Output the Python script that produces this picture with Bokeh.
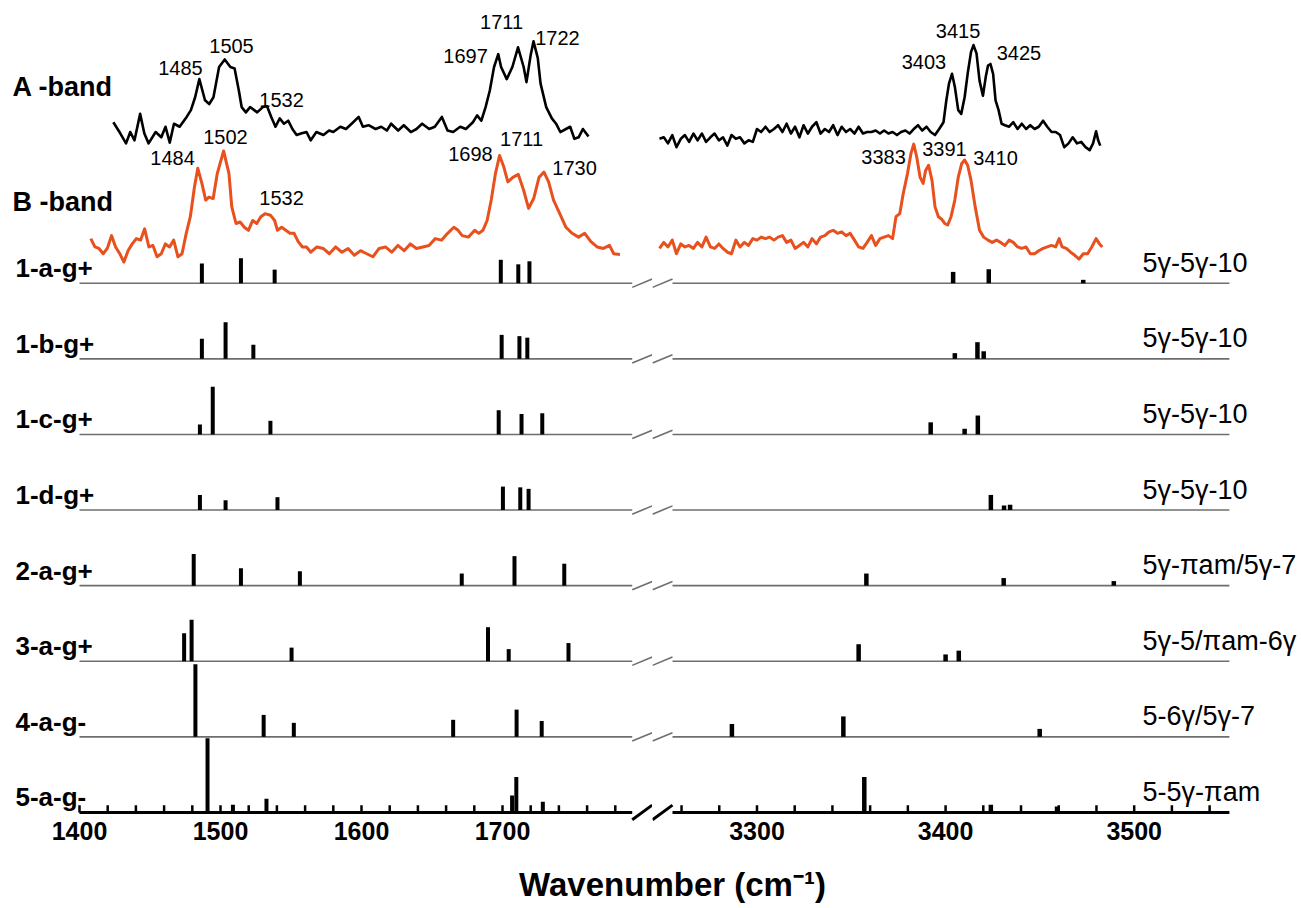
from bokeh.plotting import figure
from bokeh.models import Range1d, FixedTicker, Label, ColumnDataSource
from bokeh.transform import dodge
from bokeh.layouts import row, column
from bokeh.embed import file_html
from bokeh.resources import INLINE

# ---------------------------------------------------------------- data
row_names = ["1-a-g+", "1-b-g+", "1-c-g+", "1-d-g+", "2-a-g+", "3-a-g+", "4-a-g-", "5-a-g-"]
row_motifs = ["5\u03b3-5\u03b3-10", "5\u03b3-5\u03b3-10", "5\u03b3-5\u03b3-10", "5\u03b3-5\u03b3-10",
              "5\u03b3-\u03c0am/5\u03b3-7", "5\u03b3-5/\u03c0am-6\u03b3", "5-6\u03b3/5\u03b3-7", "5-5\u03b3-\u03c0am"]

# computed stick spectra: wavenumber (cm-1) and relative intensity
s1a_x = [1486.8, 1514.5, 1538.4, 1698.8, 1711.2, 1719.1, 3404.0, 3422.9, 3473.0]
s1a_h = [0.26, 0.33, 0.18, 0.31, 0.25, 0.29, 0.15, 0.185, 0.045]
s1b_x = [1486.8, 1503.6, 1523.3, 1699.4, 1712.0, 1717.6, 3404.9, 3416.9, 3420.2]
s1b_h = [0.265, 0.485, 0.185, 0.317, 0.30, 0.28, 0.075, 0.22, 0.10]
s1c_x = [1485.4, 1494.5, 1535.4, 1697.3, 1713.5, 1728.2, 3392.1, 3410.1, 3417.1]
s1c_h = [0.13, 0.63, 0.18, 0.32, 0.27, 0.28, 0.16, 0.075, 0.25]
s1d_x = [1485.4, 1503.6, 1540.4, 1700.3, 1712.6, 1718.5, 3424.0, 3431.0, 3434.2]
s1d_h = [0.20, 0.13, 0.17, 0.31, 0.30, 0.28, 0.20, 0.06, 0.07]
s2a_x = [1481.0, 1514.5, 1556.3, 1671.1, 1708.5, 1743.8, 3358.0, 3430.8, 3489.2]
s2a_h = [0.42, 0.23, 0.19, 0.16, 0.39, 0.29, 0.16, 0.10, 0.06]
s3a_x = [1474.2, 1479.5, 1550.4, 1689.7, 1704.4, 1746.8, 3353.9, 3400.0, 3407.0]
s3a_h = [0.37, 0.55, 0.18, 0.45, 0.16, 0.24, 0.225, 0.09, 0.14]
s4a_x = [1482.2, 1530.6, 1552.0, 1665.0, 1710.0, 1727.8, 3286.7, 3345.8, 3449.9]
s4a_h = [0.96, 0.29, 0.185, 0.225, 0.36, 0.21, 0.17, 0.27, 0.105]
s5a_x = [1490.8, 1508.8, 1532.6, 1706.8, 1709.8, 1728.6, 3356.9, 3424.0, 3459.1]
s5a_h = [0.98, 0.10, 0.18, 0.225, 0.47, 0.14, 0.47, 0.10, 0.08]

# experimental A-band (relative intensity)
a_lo_x = [1424, 1429, 1433, 1436, 1439, 1443, 1446, 1449, 1454, 1458, 1461, 1464, 1467, 1471, 1476,
          1479, 1482, 1485, 1489, 1492, 1495, 1499, 1503, 1507, 1510, 1513, 1515, 1518, 1521, 1526,
          1530, 1533, 1536, 1539, 1542, 1545, 1548, 1551, 1554, 1557, 1561, 1564, 1568, 1573, 1577,
          1580, 1585, 1589, 1593, 1598, 1601, 1605, 1610, 1614, 1618, 1621, 1626, 1630, 1635, 1639,
          1643, 1648, 1652, 1657, 1661, 1665, 1670, 1674, 1679, 1682, 1685, 1688, 1691, 1694, 1697,
          1699, 1703, 1707, 1711, 1715, 1717, 1720, 1722, 1725, 1727, 1731, 1735, 1738, 1741, 1745,
          1748, 1751, 1754, 1757, 1761]
a_lo_y = [0.33, 0.18, 0.05, 0.20, 0.09, 0.44, 0.18, 0.05, 0.20, 0.13, 0.27, 0.06, 0.31, 0.27, 0.40,
          0.49, 0.66, 0.90, 0.62, 0.57, 0.66, 1.06, 1.16, 1.06, 1.04, 0.75, 0.53, 0.46, 0.53, 0.46,
          0.53, 0.54, 0.40, 0.27, 0.38, 0.31, 0.35, 0.24, 0.16, 0.18, 0.20, 0.09, 0.20, 0.16, 0.22,
          0.20, 0.27, 0.24, 0.31, 0.40, 0.27, 0.29, 0.24, 0.27, 0.22, 0.31, 0.22, 0.29, 0.20, 0.24,
          0.31, 0.24, 0.27, 0.40, 0.22, 0.20, 0.27, 0.24, 0.33, 0.42, 0.35, 0.53, 0.75, 1.06, 1.23,
          1.06, 0.90, 1.06, 1.32, 1.06, 0.86, 1.22, 1.40, 1.18, 0.84, 0.53, 0.38, 0.31, 0.20, 0.24,
          0.27, 0.11, 0.13, 0.24, 0.14]
a_hi_x = [3248.3, 3250.6, 3252.8, 3255.1, 3257.3, 3259.6, 3261.8, 3264.0, 3266.3, 3268.5, 3270.8,
          3273.0, 3275.3, 3277.5, 3279.8, 3282.0, 3284.3, 3286.5, 3288.8, 3291.0, 3293.3, 3295.5,
          3297.8, 3300.0, 3302.2, 3304.5, 3306.7, 3309.0, 3311.2, 3313.5, 3315.7, 3318.0, 3320.2,
          3322.5, 3324.7, 3327.0, 3329.2, 3331.5, 3333.7, 3336.0, 3338.2, 3340.4, 3342.7, 3344.9,
          3347.2, 3349.4, 3351.7, 3353.9, 3356.2, 3358.4, 3360.7, 3362.9, 3365.2, 3367.4, 3369.7,
          3371.9, 3374.2, 3376.4, 3378.7, 3380.9, 3383.1, 3385.4, 3387.6, 3389.9, 3392.1, 3394.4,
          3396.6, 3398.9, 3400.4, 3401.8, 3403.4, 3404.9, 3406.7, 3408.3, 3410.1, 3411.7, 3413.5,
          3414.8, 3416.4, 3418.0, 3419.8, 3421.3, 3422.5, 3423.8, 3425.2, 3426.5, 3428.1, 3429.7,
          3431.5, 3433.7, 3435.9, 3438.2, 3440.4, 3442.7, 3444.9, 3447.2, 3449.4, 3451.7, 3453.9,
          3456.2, 3458.4, 3460.7, 3462.9, 3465.2, 3467.4, 3469.7, 3471.9, 3474.2, 3476.4, 3478.2,
          3479.8, 3480.9, 3482.0]
a_hi_y = [0.11, 0.13, 0.05, 0.16, 0.00, 0.11, 0.16, 0.07, 0.18, 0.09, 0.18,
          0.07, 0.13, 0.18, 0.09, 0.13, 0.02, 0.16, 0.11, 0.13, 0.05, 0.09,
          0.07, 0.24, 0.20, 0.27, 0.20, 0.24, 0.29, 0.20, 0.31, 0.18, 0.27,
          0.13, 0.29, 0.18, 0.27, 0.33, 0.18, 0.24, 0.20, 0.29, 0.16, 0.27,
          0.20, 0.24, 0.18, 0.27, 0.18, 0.20, 0.20, 0.22, 0.18, 0.22, 0.18,
          0.20, 0.16, 0.20, 0.22, 0.18, 0.24, 0.29, 0.22, 0.27, 0.20, 0.16,
          0.24, 0.33, 0.62, 0.84, 0.97, 0.80, 0.49, 0.44, 0.66, 0.97, 1.26,
          1.35, 1.24, 0.88, 0.68, 0.93, 1.08, 1.10, 0.97, 0.62, 0.49, 0.31,
          0.29, 0.27, 0.33, 0.24, 0.31, 0.24, 0.29, 0.24, 0.27, 0.35, 0.27,
          0.20, 0.20, 0.16, 0.00, 0.05, 0.13, 0.05, 0.07, 0.00, -0.04, 0.05,
          0.21, 0.09, 0.02]

# experimental B-band (relative intensity)
b_lo_x = [1408.0, 1410.9, 1413.8, 1416.8, 1419.7, 1422.7, 1425.6, 1428.6, 1431.5, 1434.4, 1437.4,
          1440.3, 1443.3, 1446.2, 1449.2, 1452.1, 1455.0, 1458.0, 1460.9, 1463.9, 1466.8, 1469.8,
          1472.7, 1475.7, 1478.6, 1481.5, 1483.9, 1486.8, 1489.5, 1491.8, 1494.8, 1497.7, 1502.2,
          1506.0, 1508.0, 1511.0, 1513.9, 1516.9, 1519.8, 1522.8, 1525.7, 1528.6, 1531.6, 1535.4,
          1538.4, 1540.4, 1543.4, 1546.3, 1549.3, 1552.2, 1555.1, 1558.1, 1561.0, 1564.0, 1568.4,
          1572.8, 1577.2, 1581.6, 1586.1, 1590.5, 1594.9, 1599.3, 1603.7, 1608.1, 1612.5, 1617.0,
          1621.4, 1625.8, 1630.2, 1634.6, 1639.0, 1643.5, 1647.9, 1652.3, 1656.7, 1661.1, 1665.5,
          1668.5, 1671.4, 1675.8, 1680.3, 1683.2, 1686.1, 1689.1, 1692.0, 1695.0, 1697.9, 1700.9,
          1703.8, 1707.3, 1711.2, 1715.0, 1718.5, 1722.1, 1725.9, 1729.4, 1732.7, 1736.2, 1740.6,
          1745.0, 1749.4, 1753.9, 1758.3, 1762.7, 1767.1, 1771.5, 1775.9, 1778.9, 1783.3]
b_lo_y = [0.34, 0.23, 0.21, 0.14, 0.21, 0.38, 0.23, 0.14, 0.03, 0.18, 0.27,
          0.34, 0.32, 0.47, 0.23, 0.25, 0.10, 0.14, 0.27, 0.23, 0.32, 0.10,
          0.14, 0.41, 0.63, 1.02, 1.27, 1.07, 0.85, 0.89, 0.87, 1.20, 1.50,
          1.20, 0.76, 0.54, 0.56, 0.49, 0.45, 0.58, 0.54, 0.63, 0.67, 0.65,
          0.58, 0.45, 0.49, 0.45, 0.41, 0.41, 0.30, 0.23, 0.23, 0.16, 0.23,
          0.21, 0.14, 0.23, 0.16, 0.21, 0.12, 0.18, 0.14, 0.10, 0.21, 0.23,
          0.16, 0.25, 0.18, 0.27, 0.21, 0.23, 0.25, 0.34, 0.32, 0.41, 0.49,
          0.45, 0.38, 0.36, 0.45, 0.41, 0.45, 0.58, 0.85, 1.20, 1.44, 1.29,
          1.09, 1.15, 1.19, 0.98, 0.74, 0.87, 1.15, 1.22, 1.09, 0.85, 0.67,
          0.49, 0.41, 0.36, 0.41, 0.30, 0.23, 0.21, 0.25, 0.14, 0.13]
b_hi_x = [3248.3, 3250.6, 3252.8, 3255.1, 3257.3, 3259.6, 3261.8, 3264.0, 3266.3, 3268.5, 3270.8,
          3273.0, 3275.3, 3277.5, 3279.8, 3282.0, 3284.3, 3286.5, 3288.8, 3291.0, 3293.3, 3295.5,
          3297.8, 3300.0, 3302.2, 3304.5, 3306.7, 3309.0, 3311.2, 3313.5, 3315.7, 3318.0, 3320.2,
          3322.5, 3324.7, 3327.0, 3329.2, 3331.5, 3333.7, 3336.0, 3338.2, 3340.4, 3342.7, 3344.9,
          3347.2, 3349.4, 3351.7, 3353.9, 3356.2, 3358.4, 3360.7, 3362.9, 3365.2, 3367.4, 3369.7,
          3371.9, 3373.7, 3375.7, 3377.5, 3379.8, 3381.6, 3383.1, 3384.7, 3386.5, 3388.1, 3389.4,
          3391.0, 3392.8, 3394.4, 3396.2, 3397.8, 3399.6, 3401.1, 3402.9, 3404.9, 3406.7, 3408.5,
          3410.1, 3411.7, 3413.5, 3415.7, 3418.0, 3420.2, 3422.5, 3424.7, 3427.0, 3429.2, 3431.5,
          3433.7, 3435.9, 3438.2, 3440.4, 3442.7, 3444.9, 3447.2, 3449.4, 3451.7, 3453.9, 3456.2,
          3458.4, 3460.2, 3461.8, 3464.0, 3466.3, 3468.5, 3470.8, 3473.0, 3475.3, 3477.5, 3479.8,
          3481.6, 3483.1]
b_hi_y = [0.21, 0.29, 0.23, 0.32, 0.14, 0.27, 0.23, 0.25, 0.21, 0.29, 0.23,
          0.36, 0.23, 0.21, 0.27, 0.21, 0.16, 0.14, 0.32, 0.23, 0.29, 0.25,
          0.34, 0.32, 0.36, 0.34, 0.36, 0.32, 0.36, 0.38, 0.29, 0.32, 0.21,
          0.25, 0.29, 0.23, 0.34, 0.27, 0.36, 0.38, 0.43, 0.45, 0.41, 0.43,
          0.38, 0.41, 0.32, 0.23, 0.21, 0.29, 0.38, 0.25, 0.34, 0.36, 0.38,
          0.34, 0.63, 0.67, 0.93, 1.20, 1.46, 1.59, 1.42, 1.15, 1.07, 1.24,
          1.31, 1.11, 0.76, 0.63, 0.60, 0.54, 0.52, 0.63, 0.85, 1.15, 1.33,
          1.38, 1.31, 1.11, 0.76, 0.45, 0.36, 0.32, 0.29, 0.32, 0.29, 0.25,
          0.32, 0.29, 0.23, 0.21, 0.23, 0.14, 0.14, 0.18, 0.21, 0.23, 0.25,
          0.23, 0.34, 0.23, 0.21, 0.16, 0.12, 0.07, 0.14, 0.14, 0.23, 0.34,
          0.27, 0.23]

# peak annotations
a_lo_peaks = ["1485", "1505", "1532", "1697", "1711", "1722"]
b_lo_peaks = ["1484", "1502", "1532", "1698", "1711", "1730"]
a_hi_peaks = ["3403", "3415", "3425"]
b_hi_peaks = ["3383", "3391", "3410"]

major_lo = [1400, 1500, 1600, 1700]
minor_lo = [1420, 1440, 1460, 1480, 1520, 1540, 1560, 1580, 1620, 1640, 1660, 1680, 1720, 1740, 1760, 1780]
major_hi = [3300, 3400, 3500]
minor_hi = [3260, 3280, 3320, 3340, 3360, 3380, 3420, 3440, 3460, 3480, 3520, 3540]

# ---------------------------------------------------------------- layout constants
FONT = "Liberation Sans"
PX_LO, PX_HI = 1.41, 1.886            # pixels per cm-1 in each segment
PX_ROW = 75.6                         # pixels per row unit
LO_START, LO_AXIS_END = 1400.0, 1792.0
LO_VIEW = (1343.97, 1343.97 + 652 / PX_LO)
HI_START, HI_END = 3255.2, 3550.5
HI_VIEW = (3244.6, 3244.6 + 648 / PX_HI)
A_OFF, B_OFF = 8.8, 7.25
N_ROWS = len(row_names)
FRAME_H = 821
yr = Range1d(-0.12, -0.12 + FRAME_H / PX_ROW)
RED = "#E8501E"
GREY = "#6e6e6e"
TXT_UP = 0.13      # lift for text baselines (row units)

a_lo_pos = [(1471.6, 9.72), (1507.8, 10.01), (1543.3, 9.29), (1673.8, 9.88), (1699.3, 10.33), (1739.0, 10.11)]
b_lo_pos = [(1466.0, 8.52), (1503.5, 8.80), (1543.3, 8.00), (1677.3, 8.58), (1713.5, 8.78), (1751.1, 8.39)]
a_hi_pos = [(3388.5, 9.79), (3406.6, 10.21), (3438.9, 9.92)]
b_hi_pos = [(3367.1, 8.54), (3399.4, 8.65), (3426.5, 8.52)]

sticks = [(s1a_x, s1a_h), (s1b_x, s1b_h), (s1c_x, s1c_h), (s1d_x, s1d_h),
          (s2a_x, s2a_h), (s3a_x, s3a_h), (s4a_x, s4a_h), (s5a_x, s5a_h)]


def make_fig(frame_w, xr):
    p = figure(frame_width=frame_w, frame_height=FRAME_H, x_range=Range1d(*xr), y_range=yr,
               output_backend="svg", toolbar_location=None, y_axis_location=None,
               min_border_left=0, min_border_right=0, min_border_top=0, min_border_bottom=40)
    p.xgrid.visible = False
    p.ygrid.visible = False
    p.outline_line_color = None
    p.background_fill_color = "white"
    p.border_fill_color = "white"
    ax = p.xaxis[0]
    ax.axis_line_color = None
    ax.major_tick_line_color = None
    ax.minor_tick_line_color = None
    ax.major_tick_in = 0
    ax.major_tick_out = 0
    ax.minor_tick_in = 0
    ax.minor_tick_out = 0
    ax.major_label_standoff = 0
    ax.major_label_text_font = FONT
    ax.major_label_text_font_size = "25px"
    ax.major_label_text_font_style = "bold"
    ax.major_label_text_color = "black"
    return p


p1 = make_fig(652, LO_VIEW)
p2 = make_fig(648, HI_VIEW)
p1.xaxis[0].ticker = FixedTicker(ticks=major_lo)
p2.xaxis[0].ticker = FixedTicker(ticks=major_hi)

for p, x0, x1, majors, minors in [(p1, LO_START, LO_AXIS_END, major_lo, minor_lo),
                                  (p2, HI_START, HI_END, major_hi, minor_hi)]:
    for r in range(1, N_ROWS):
        p.segment(x0=x0, y0=r, x1=x1, y1=r, line_width=1.6, line_color=GREY)
    p.segment(x0=x0, y0=0, x1=x1, y1=0, line_width=3, line_color="black")
    tsrc = ColumnDataSource(dict(t=majors + minors))
    p.segment(x0="t", y0=0, x1="t", y1=0.095, source=tsrc, line_width=2.5, line_color="black")

# axis-break marks: one slash at the end of the low segment, one before the high segment
for r in range(N_ROWS):
    base = N_ROWS - 1 - r
    if base == 0:
        dy, lw, col = 0.097, 3, "black"
    else:
        dy, lw, col = 0.055, 1.6, GREY
    p1.segment(x0=LO_AXIS_END, y0=base - dy, x1=LO_AXIS_END + 20 / PX_LO, y1=base + dy,
               line_width=lw, line_color=col)
    p2.segment(x0=HI_START - 20 / PX_HI, y0=base - dy, x1=HI_START, y1=base + dy,
               line_width=lw, line_color=col)

# stick spectra
for i, (xs, hs) in enumerate(sticks):
    base = N_ROWS - 1 - i
    lo = [(x, h) for x, h in zip(xs, hs) if x < 2500]
    hi = [(x, h) for x, h in zip(xs, hs) if x >= 2500]
    for p, pts, lw in [(p1, lo, 4), (p2, hi, 4.5)]:
        src = ColumnDataSource(dict(x=[a for a, _ in pts], h=[b for _, b in pts]))
        p.segment(x0="x", y0=base, x1="x", y1=dodge("h", base), source=src,
                  line_width=lw, line_color="black")

# experimental spectra
for p, xs, ys, off, col, lw in [(p1, a_lo_x, a_lo_y, A_OFF, "black", 2.6),
                                (p2, a_hi_x, a_hi_y, A_OFF, "black", 2.6),
                                (p1, b_lo_x, b_lo_y, B_OFF, RED, 3.0),
                                (p2, b_hi_x, b_hi_y, B_OFF, RED, 3.0)]:
    src = ColumnDataSource(dict(x=xs, y=ys))
    p.line("x", dodge("y", off), source=src, line_color=col, line_width=lw, line_join="round")

# peak labels
for p, texts, pos in [(p1, a_lo_peaks, a_lo_pos), (p1, b_lo_peaks, b_lo_pos),
                      (p2, a_hi_peaks, a_hi_pos), (p2, b_hi_peaks, b_hi_pos)]:
    for t, (x, y) in zip(texts, pos):
        p.add_layout(Label(x=x, y=y + TXT_UP, text=t, text_align="center", text_baseline="alphabetic",
                           text_font=FONT, text_font_size="20px", text_color="black"))

# band labels
for t, y in [("A -band", 9.60), ("B -band", 8.07)]:
    p1.add_layout(Label(x=12, x_units="screen", y=y, text=t, text_align="left",
                        text_baseline="alphabetic", text_font=FONT, text_font_size="27px",
                        text_font_style="bold", text_color="black"))

# row labels (left) and motif labels (right)
for i, (name, motif) in enumerate(zip(row_names, row_motifs)):
    base = N_ROWS - 1 - i
    p1.add_layout(Label(x=15, x_units="screen", y=base + 0.20, text=name, text_align="left",
                        text_baseline="alphabetic", text_font=FONT, text_font_size="26px",
                        text_font_style="bold", text_color="black"))
    p2.add_layout(Label(x=3504.4, y=base + 0.27, text=motif, text_align="left",
                        text_baseline="alphabetic", text_font=FONT, text_font_size="27px",
                        text_color="black"))

# axis title strip spanning both segments
p3 = figure(frame_width=1300, frame_height=47, x_range=Range1d(0, 1300), y_range=Range1d(0, 47),
            output_backend="svg", toolbar_location=None, x_axis_location=None, y_axis_location=None,
            min_border=0)
p3.xgrid.visible = False
p3.ygrid.visible = False
p3.outline_line_color = None
p3.add_layout(Label(x=672, y=24, text="Wavenumber (cm\u207b\u00b9)",
                    text_align="center", text_baseline="alphabetic", text_font=FONT,
                    text_font_size="33px", text_font_style="bold", text_color="black"))

layout = column(row(p1, p2), p3)
open("out.html", "w").write(file_html(layout, INLINE))
